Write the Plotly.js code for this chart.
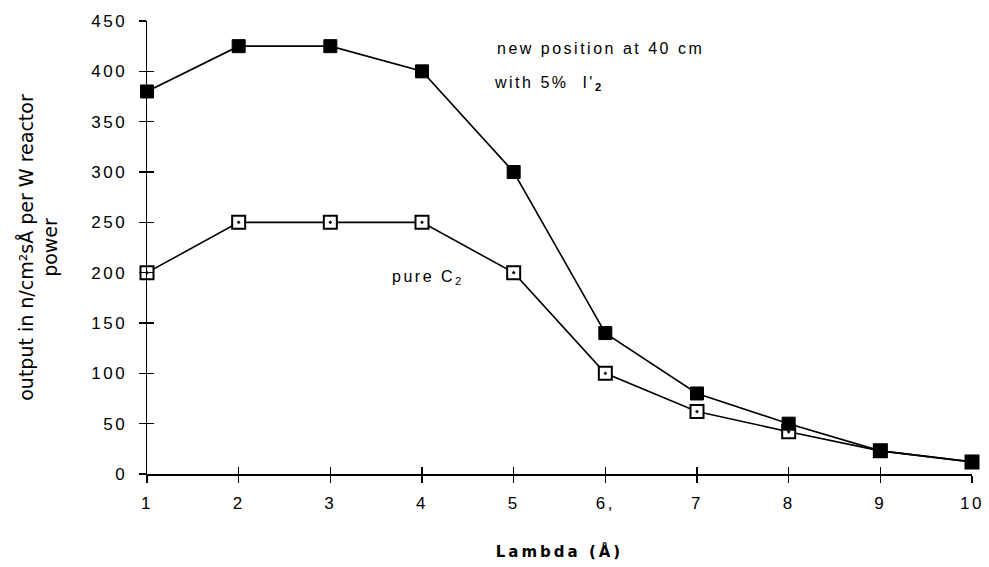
<!DOCTYPE html>
<html>
<head>
<meta charset="utf-8">
<script src="https://cdn.plot.ly/plotly-3.0.1.min.js"></script>
<style>
body{margin:0;background:#fff}
#chart{width:989px;height:567px}
.xtick text,.ytick text{letter-spacing:2.5px}
.annotation-text{letter-spacing:2.5px}
text.xtitle{letter-spacing:3px}
</style>
</head>
<body>
<div id="chart"></div>
<script>
const lambda = [1, 2, 3, 4, 5, 6, 7, 8, 9, 10];
const newPosition = [380, 425, 425, 400, 300, 140, 80, 50, 23, 12];
const pureC2 = [200, 250, 250, 250, 200, 100, 62, 42, 23, 12];
const xTickVals = [1, 2, 3, 4, 5, 6, 7, 8, 9, 10];
const xTickText = ['1', '2', '3', '4', '5', '6,', '7', '8', '9', '10'];
const yTickVals = [0, 50, 100, 150, 200, 250, 300, 350, 400, 450];

const font = {family: 'Liberation Sans, Arial, sans-serif', size: 17, color: '#000'};
const annFont = {family: 'Liberation Sans, Arial, sans-serif', size: 16, color: '#000'};

const traces = [
  {x: lambda, y: pureC2, mode: 'lines+markers', cliponaxis: false,
   line: {color: '#000', width: 1.6},
   marker: {symbol: 'square-dot', size: 13, color: '#fff', line: {color: '#000', width: 2}}},
  {x: lambda, y: newPosition, mode: 'lines+markers', cliponaxis: false,
   line: {color: '#000', width: 1.6},
   marker: {symbol: 'square', size: 13, color: '#000', line: {color: '#000', width: 1}}}
];

const layout = {
  width: 989, height: 567,
  margin: {l: 147, r: 17, t: 21, b: 93},
  paper_bgcolor: '#fff', plot_bgcolor: '#fff',
  showlegend: false,
  font: font,
  xaxis: {range: [1, 10], tickvals: xTickVals, ticktext: xTickText, ticks: 'outside', ticklen: 7,
          tickcolor: '#000', tickwidth: 1.2, showline: true, linecolor: '#000', linewidth: 1.5, showgrid: false,
          zeroline: false, tickfont: font, ticklabelstandoff: 6,
          title: {text: '<b>Lambda (Å)</b>', font: {family: 'DejaVu Sans, sans-serif', size: 15, color: '#000'}, standoff: 34}},
  yaxis: {range: [0, 450], tickvals: yTickVals, ticks: 'outside', ticklen: 7,
          tickcolor: '#000', tickwidth: 1.2, showline: true, linecolor: '#000', linewidth: 1.5, showgrid: false,
          zeroline: false, tickfont: font, ticklabelstandoff: 8,
          title: {text: 'output in n/cm²sÅ per W reactor<br>power', font: {family: 'DejaVu Sans, sans-serif', size: 19, color: '#000'}, standoff: 28}},
  xaxis2: {range: [1, 10], tickvals: xTickVals, ticks: 'inside', ticklen: 7, tickcolor: '#000', tickwidth: 1.2,
           showticklabels: false, showgrid: false, zeroline: false, overlaying: 'x', anchor: 'y'},
  yaxis2: {range: [0, 450], tickvals: yTickVals, ticks: 'inside', ticklen: 7, tickcolor: '#000', tickwidth: 1.2,
           showticklabels: false, showgrid: false, zeroline: false, overlaying: 'y', anchor: 'x'},
  annotations: [
    {x: 4.8, y: 423, xref: 'x', yref: 'y', xanchor: 'left', text: 'new position at 40 cm', showarrow: false, font: annFont},
    {x: 4.76, y: 388, xref: 'x', yref: 'y', xanchor: 'left', text: 'with 5%  I\'<sub><b>2</b></sub>', showarrow: false, font: annFont},
    {x: 3.65, y: 195, xref: 'x', yref: 'y', xanchor: 'left', text: 'pure C<sub>2</sub>', showarrow: false, font: annFont}
  ]
};

const helper = {x: [1], y: [0], xaxis: 'x2', yaxis: 'y2', mode: 'markers', marker: {opacity: 0}, hoverinfo: 'skip'};

Plotly.newPlot('chart', traces.concat([helper]), layout, {displayModeBar: false, staticPlot: true});
</script>
</body>
</html>
